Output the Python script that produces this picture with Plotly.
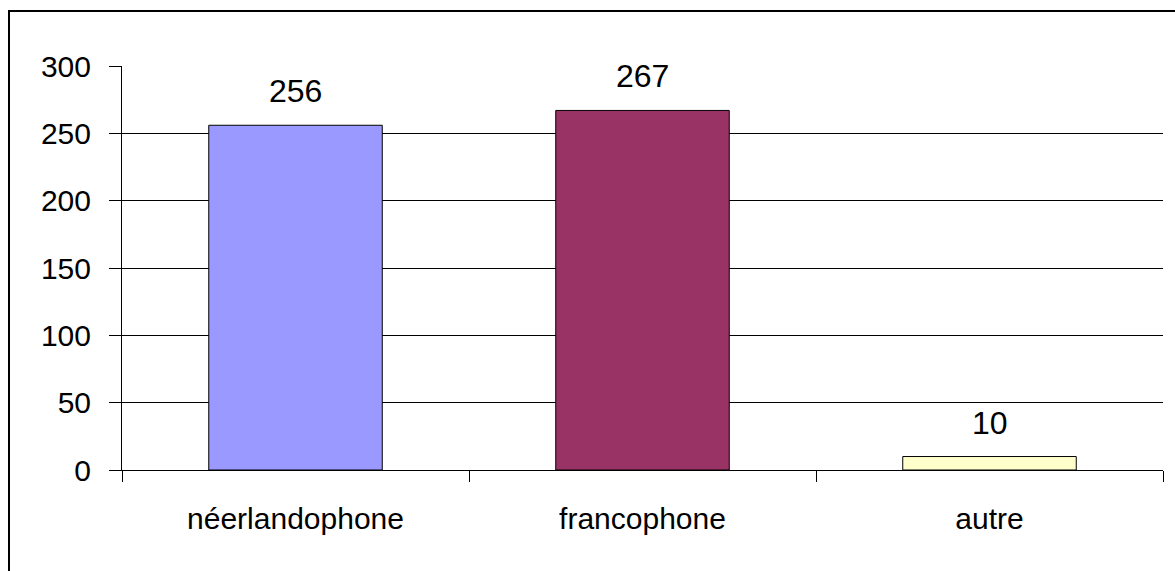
import plotly.graph_objects as go

categories = ["néerlandophone", "francophone", "autre"]
values = [256, 267, 10]
colors = ["#9999FF", "#993366", "#FFFFCC"]
y_ticks = [0, 50, 100, 150, 200, 250, 300]

W, H = 1175, 571
L, R, T, B = 122, 12, 66, 101

fig = go.Figure()
fig.add_trace(go.Bar(
    x=categories, y=values,
    marker=dict(color=colors, line=dict(color="black", width=1)),
    width=0.5, showlegend=False, hoverinfo="skip",
))

for c, v in zip(categories, values):
    fig.add_annotation(x=c, y=v, text=str(v), showarrow=False,
                       yanchor="bottom", yshift=14,
                       font=dict(family="Liberation Sans, Arial", size=32, color="black"))

pw = W - L - R
ph = H - T - B
# outer frame (decoration)
fig.add_shape(type="rect", xref="paper", yref="paper",
              x0=(9 - L) / pw, x1=(W + 20 - L) / pw,
              y0=(H - B - (H + 20)) / ph, y1=(H - B - 11) / ph,
              line=dict(color="black", width=2), fillcolor="rgba(0,0,0,0)", layer="below")

fig.update_layout(
    width=W, height=H,
    margin=dict(l=L, r=R, t=T, b=B, pad=0),
    paper_bgcolor="white", plot_bgcolor="white",
    font=dict(family="Liberation Sans, Arial", size=30, color="black"),
    bargap=0.5,
    xaxis=dict(
        type="category", tickson="boundaries", ticks="outside", ticklen=11,
        tickwidth=1, tickcolor="black", showline=True, linecolor="black",
        linewidth=1, showgrid=False, ticklabelstandoff=22,
        tickfont=dict(size=30),
    ),
    yaxis=dict(
        range=[0, 300], tickvals=y_ticks, ticks="outside", ticklen=12,
        tickwidth=1, tickcolor="black", showline=True, linecolor="black",
        linewidth=1, showgrid=True, gridcolor="black", gridwidth=1,
        zeroline=True, zerolinecolor="black", zerolinewidth=1,
        ticklabelstandoff=12, tickfont=dict(size=30),
    ),
)

fig.write_html("out.html")
